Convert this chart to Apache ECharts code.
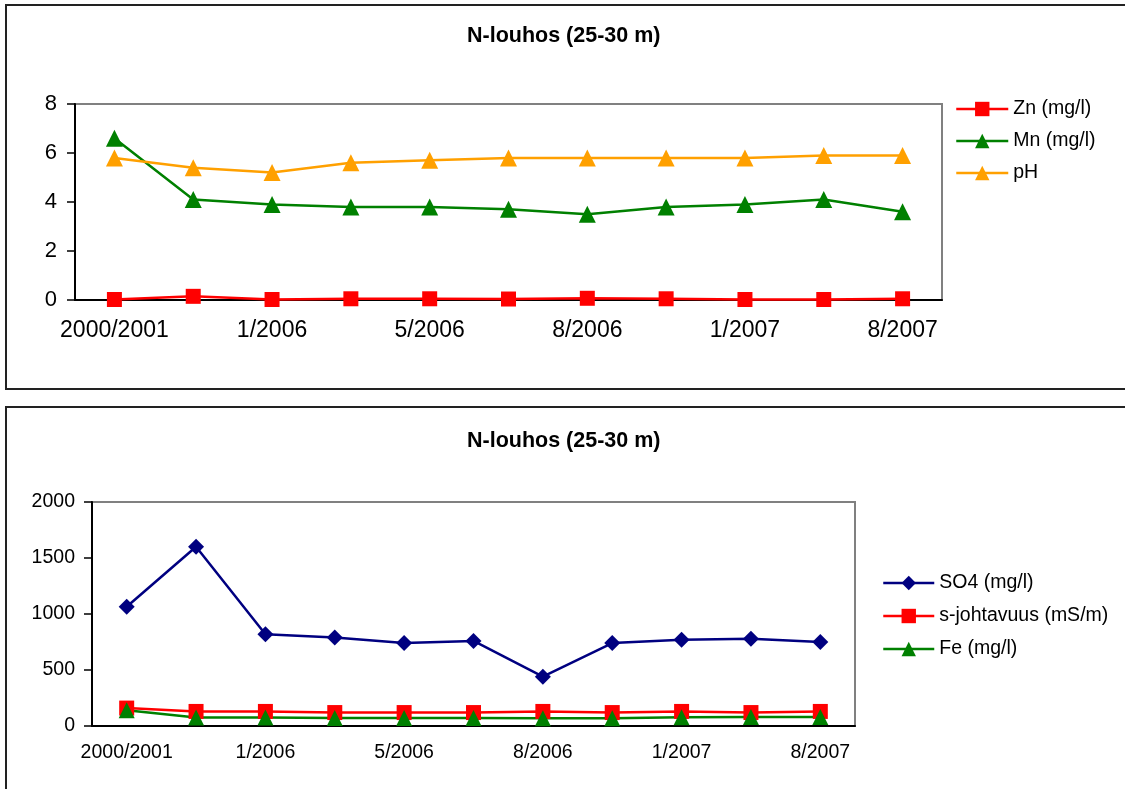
<!DOCTYPE html>
<html>
<head>
<meta charset="utf-8">
<script src="https://cdn.jsdelivr.net/npm/echarts@6/dist/echarts.min.js"></script>
<style>
  html, body { margin: 0; padding: 0; background: #fff; }
  #chart { width: 1125px; height: 789px; }
</style>
</head>
<body>
<div id="chart"></div>
<script>
// Sampling dates (only every other one carries a printed label)
const sampleDates = ['2000/2001', '', '1/2006', '', '5/2006', '', '8/2006', '', '1/2007', '', '8/2007'];

// Upper chart: metals and pH
const zn = [0.02, 0.15, 0.02, 0.05, 0.05, 0.04, 0.07, 0.05, 0.02, 0.02, 0.05];
const mn = [6.6, 4.1, 3.9, 3.8, 3.8, 3.7, 3.5, 3.8, 3.9, 4.1, 3.6];
const ph = [5.8, 5.4, 5.2, 5.6, 5.7, 5.8, 5.8, 5.8, 5.8, 5.9, 5.9];

// Lower chart: sulphate, conductivity and iron
const so4 = [1065, 1600, 820, 790, 740, 760, 440, 740, 770, 780, 750];
const conductivity = [160, 130, 130, 120, 120, 120, 130, 120, 130, 120, 130];
const fe = [140, 75, 75, 72, 72, 72, 70, 70, 78, 80, 80];

const titleText = 'N-louhos (25-30 m)';
const upperNames = ['Zn (mg/l)', 'Mn (mg/l)', 'pH'];
const lowerNames = ['SO4 (mg/l)', 's-johtavuus (mS/m)', 'Fe (mg/l)'];

const FONT = '"Liberation Sans", Arial, sans-serif';

function lineSeries(name, data, color, symbol, size, axisIndex) {
  return {
    type: 'line',
    name: name,
    data: data,
    xAxisIndex: axisIndex,
    yAxisIndex: axisIndex,
    symbol: symbol,
    symbolSize: size,
    showAllSymbol: true,
    lineStyle: { color: color, width: 2.5 },
    itemStyle: { color: color },
    emphasis: { disabled: true },
    animation: false
  };
}

function xAxis(gridIndex, fontSize, margin) {
  return {
    type: 'category',
    gridIndex: gridIndex,
    data: sampleDates,
    boundaryGap: true,
    axisLine: { lineStyle: { color: '#000', width: 2 } },
    axisTick: { interval: 0, length: 6, lineStyle: { color: '#000', width: 1.5 } },
    axisLabel: { interval: 0, color: '#000', fontFamily: FONT, fontSize: fontSize, margin: margin },
    splitLine: { show: false }
  };
}

function yAxis(gridIndex, max, step, fontSize, margin) {
  return {
    type: 'value',
    gridIndex: gridIndex,
    min: 0,
    max: max,
    interval: step,
    axisLine: { show: true, lineStyle: { color: '#000', width: 2 } },
    axisTick: { show: true, length: 8, lineStyle: { color: '#000', width: 1.5 } },
    axisLabel: { color: '#000', fontFamily: FONT, fontSize: fontSize, margin: margin,
      formatter: function (v) { return String(v); } },
    splitLine: { show: false }
  };
}

const legendBase = {
  orient: 'vertical',
  padding: 0,
  itemHeight: 18,
  lineStyle: { width: 2.5 },
  textStyle: { color: '#000', fontFamily: FONT, fontSize: 19.5 },
  selectedMode: false
};

const chart = echarts.init(document.getElementById('chart'), null, { renderer: 'canvas' });

chart.setOption({
  backgroundColor: '#fff',
  animation: false,
  title: [
    { text: titleText, left: 462, top: 20,
      textStyle: { fontFamily: FONT, fontSize: 21.5, fontWeight: 'bold', color: '#000' } },
    { text: titleText, left: 462, top: 425,
      textStyle: { fontFamily: FONT, fontSize: 21.5, fontWeight: 'bold', color: '#000' } }
  ],
  graphic: [
    { type: 'rect', shape: { x: 6, y: 5, width: 1130, height: 384 },
      style: { fill: 'none', stroke: '#222', lineWidth: 2 }, silent: true },
    { type: 'rect', shape: { x: 6, y: 407, width: 1130, height: 400 },
      style: { fill: 'none', stroke: '#222', lineWidth: 2 }, silent: true }
  ],
  grid: [
    { left: 75, top: 104, width: 867, height: 196, show: true,
      borderColor: '#808080', borderWidth: 2, backgroundColor: '#fff' },
    { left: 92, top: 502, width: 763, height: 224, show: true,
      borderColor: '#808080', borderWidth: 2, backgroundColor: '#fff' }
  ],
  xAxis: [xAxis(0, 23, 19), xAxis(1, 19.5, 17)],
  yAxis: [yAxis(0, 8, 2, 22, 18), yAxis(1, 2000, 500, 19.5, 17)],
  legend: [
    Object.assign({}, legendBase, { data: upperNames, left: 955, top: 99, itemWidth: 52, itemGap: 12 }),
    Object.assign({}, legendBase, { data: lowerNames, left: 882, top: 573, itemWidth: 51, itemGap: 13 })
  ],
  series: [
    lineSeries(upperNames[0], zn, '#ff0000', 'rect', 15, 0),
    lineSeries(upperNames[1], mn, '#008000', 'triangle', 17, 0),
    lineSeries(upperNames[2], ph, '#ffa000', 'triangle', 17, 0),
    lineSeries(lowerNames[0], so4, '#000080', 'diamond', 16, 1),
    lineSeries(lowerNames[1], conductivity, '#ff0000', 'rect', 15, 1),
    lineSeries(lowerNames[2], fe, '#008000', 'triangle', 16, 1)
  ]
});
</script>
</body>
</html>
